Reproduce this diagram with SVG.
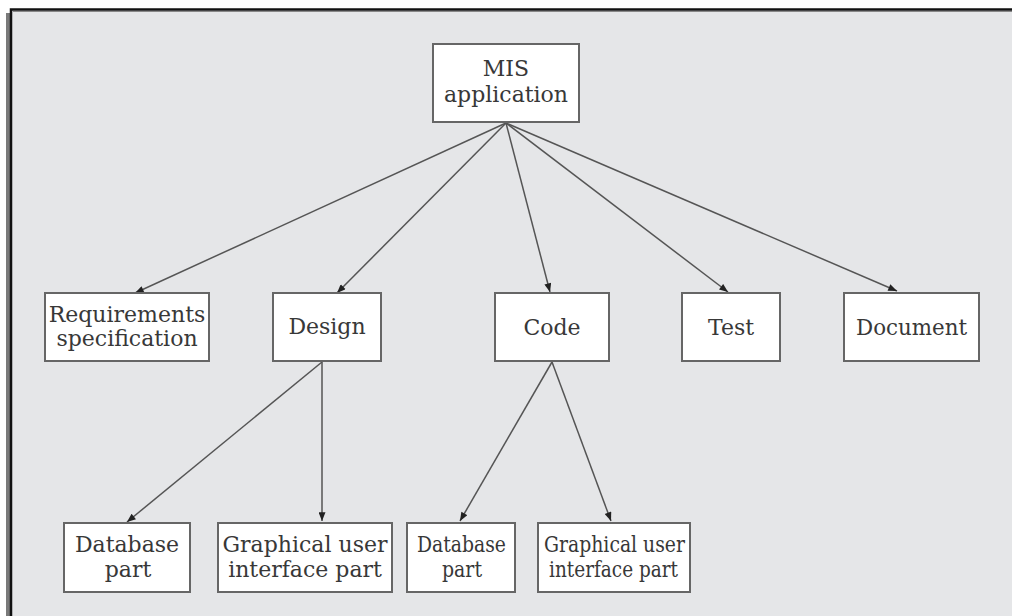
<svg xmlns="http://www.w3.org/2000/svg" width="1012" height="616" viewBox="0 0 1012 616">
<defs>
<marker id="arr" viewBox="0 0 10 8" refX="10" refY="4" markerWidth="10" markerHeight="7" markerUnits="userSpaceOnUse" orient="auto">
<path d="M0,0 L10,4 L0,8 Z" fill="#222"/>
</marker>
<style>
.box{fill:#fff;stroke:#666;stroke-width:2}
.t{font-family:"DejaVu Serif","Liberation Serif",serif;font-size:22px;fill:#383838;text-anchor:middle}
.c{fill:none;stroke:#555;stroke-width:1.5;marker-end:url(#arr)}
</style>
</defs>
<rect x="0" y="0" width="1012" height="616" fill="#fff"/>
<rect x="6" y="13" width="5" height="603" fill="#7a7a7a"/>
<rect x="11" y="9" width="1001" height="607" fill="#e5e6e8"/>
<path d="M11,616 V9.5 H1012" fill="none" stroke="#111" stroke-width="2.5"/>
<line x1="13" y1="11.5" x2="1012" y2="11.5" stroke="#888" stroke-width="1"/>
<g id="connectors">
<line class="c" x1="506" y1="123" x2="135" y2="293"/>
<line class="c" x1="506" y1="123" x2="337" y2="293"/>
<line class="c" x1="506" y1="123" x2="550" y2="292"/>
<line class="c" x1="506" y1="123" x2="728" y2="292"/>
<line class="c" x1="506" y1="123" x2="897" y2="291"/>
<line class="c" x1="322" y1="362" x2="127" y2="522"/>
<line class="c" x1="322" y1="362" x2="322" y2="521"/>
<line class="c" x1="552" y1="362" x2="460" y2="521"/>
<line class="c" x1="552" y1="362" x2="611" y2="521"/>
</g>
<g id="mis"><rect class="box" x="433" y="44" width="146" height="78"/><text class="t" x="506" y="76">MIS</text><text class="t" x="506" y="102">application</text></g>
<g id="req"><rect class="box" x="45" y="293" width="164" height="68"/><text class="t" x="127" y="322">Requirements</text><text class="t" x="127" y="346">specification</text></g>
<g id="design"><rect class="box" x="273" y="293" width="108" height="68"/><text class="t" x="327" y="334">Design</text></g>
<g id="code"><rect class="box" x="495" y="293" width="114" height="68"/><text class="t" x="552" y="335">Code</text></g>
<g id="test"><rect class="box" x="682" y="293" width="98" height="68"/><text class="t" x="731" y="335">Test</text></g>
<g id="document"><rect class="box" x="844" y="293" width="135" height="68"/><text class="t" x="911.5" y="335" textLength="111" lengthAdjust="spacingAndGlyphs">Document</text></g>
<g id="db1"><rect class="box" x="64" y="523" width="126" height="69"/><text class="t" x="127" y="552">Database</text><text class="t" x="128" y="577">part</text></g>
<g id="gui1"><rect class="box" x="218" y="523" width="174" height="69"/><text class="t" x="305" y="552">Graphical user</text><text class="t" x="305" y="577">interface part</text></g>
<g id="db2"><rect class="box" x="407" y="523" width="108" height="69"/><text class="t" x="461.5" y="552" textLength="89" lengthAdjust="spacingAndGlyphs">Database</text><text class="t" x="462" y="577" textLength="40" lengthAdjust="spacingAndGlyphs">part</text></g>
<g id="gui2"><rect class="box" x="538" y="523" width="152" height="69"/><text class="t" x="614.5" y="552" textLength="141" lengthAdjust="spacingAndGlyphs">Graphical user</text><text class="t" x="613.5" y="577" textLength="129" lengthAdjust="spacingAndGlyphs">interface part</text></g>
</svg>
